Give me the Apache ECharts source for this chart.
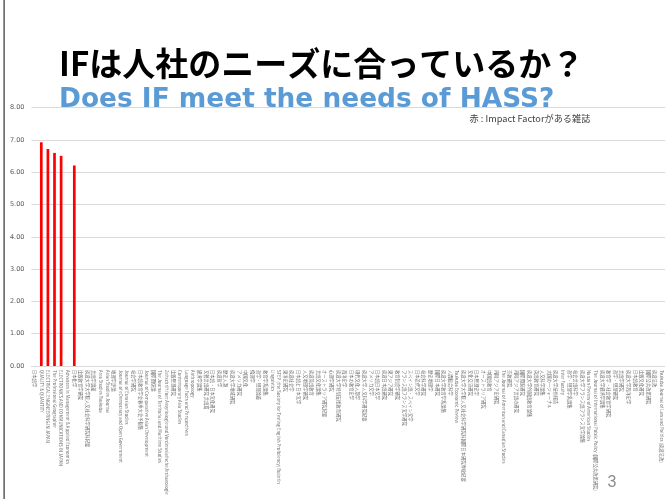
<!DOCTYPE html>
<html><head><meta charset="utf-8">
<script src="https://cdn.jsdelivr.net/npm/echarts@6/dist/echarts.min.js"></script>
<style>html,body{margin:0;padding:0;background:#fff}#c{width:665px;height:499px}</style>
</head><body><div id="c"></div>
<script>
const categories = [
'日本語学','QUALITY & QUANTITY','ELECTRICAL ENGINEERING IN JAPAN','The Professional Geographer','ELECTRONICS AND COMMUNICATIONS IN JAPAN',
'Advances in Management & Applied Economics','日本化学','比較教育学研究','筑波大学大学院人文社会科学研究科紀要','言語学論叢',
'Area Studies Tsukuba','Asian Studies Journal','地理学評論','Journal of eDemocracy and Open Government','Journal of Eurasian Studies',
'社会学研究','日本語教育学会春季大会予稿集','Journal of Comparative Asian Development','国際関係論','The Journal of Territorial and Maritime Studies',
'Zeitschrift fuer Assyriologie und Vorderasiatische Archaeologie','比較思想研究','Contemporary Asia Studies','Language Facts and Perspectives','Anthropology',
'経済学論集','文藝言語研究 言語篇','日本語・日本文化研究','筑波哲学','歴史人類',
'筑波大学地域研究','アメリカ研究','中国文化','倫理学','哲学・思想論叢',
'教育学系論集','Linguistics','STEP (the Society for Testing English Proficiency) Bulletin','東洋史研究','筑波社会学',
'日本語と日本文学','人文地理学研究','筑波英語教育','言語文化論集','オーストラリア研究紀要',
'心理学研究','筑波大学特別支援教育研究','西洋史学','日本の教育史学','現代文化人類学',
'筑波大学人文科学研究紀要','アメリカ文学','日本語日本文学','筑波日本語研究','東アジア研究',
'教育制度学研究','フランス語フランス文学研究','スペイン語・スペイン文学','日本近代文学','社会科学研究',
'歴史地理学','国際日本研究','筑波大学教育学系論集','人間総合科学','Tsukuba Economic Review',
'筑波大学大学院人文社会科学研究科国際日本研究専攻紀要','文化交流研究','日本思想史学','オーストラリア研究','中国語教育',
'内陸アジア史研究','The Journal of American and Canadian Studies','宗教研究','内陸アジア言語の研究','国際開発研究',
'筑波大学外国語教育論集','英語教育研究','人文科学論集','大国の一ジャーナル','筑波大学技術報告',
'Inter Faculty','哲学・思想学系論集','社会言語科学','筑波大学フランス語フランス文学論集','Nanzan Review of American Studies',
'The Journal of International Public Policy (国際公共政策研究)','筑波大学経済学論集','教育学・社会教育学研究','哲学・思想研究','言語学研究',
'筑波大学西洋史学','日本語教育','比較文化研究','国際公共政策研究','筑波法政',
'Tsukuba Journal of Law and Politics (筑波法政)'
];
const ifValues = [
0,6.93,6.72,6.60,6.51,0,6.21,0,0,0,
0,0,0,0,0,0,0,0,0,0,
0,0,0,0,0,0,0,0,0,0,
0,0,0,0,0,0,0,0,0,0,
0,0,0,0,0,0,0,0,0,0,
0,0,0,0,0,0,0,0,0,0,
0,0,0,0,0,0,0,0,0,0,
0,0,0,0,0,0,0,0,0,0,
0,0,0,0,0,0,0,0,0,0,
0,0,0,0,0,0
];
const titleJa = 'IFは人社のニーズに合っているか？';
const titleEn = 'Does IF meet the needs of HASS?';
const noteText = '赤 : Impact Factorがある雑誌';
const pageNo = '3';

const chart = echarts.init(document.getElementById('c'), null, {renderer: 'canvas'});
chart.setOption({
  animation: false,
  grid: {left: 31.4, right: 0, top: 107.7, bottom: 133, containLabel: false},
  xAxis: {
    type: 'category', data: categories,
    axisLine: {lineStyle: {color: '#D9D9D9', width: 1}},
    axisTick: {show: false},
    axisLabel: {interval: 0, rotate: -90, fontSize: 4.3, color: '#6F6F6F', margin: 4,
      fontFamily: '"Noto Sans CJK JP", sans-serif'}
  },
  yAxis: {
    type: 'value', min: 0, max: 8, interval: 1,
    axisLine: {show: false}, axisTick: {show: false},
    axisLabel: {fontSize: 6.5, color: '#595959', margin: 7, fontFamily: '"DejaVu Sans", sans-serif',
      formatter: v => v.toFixed(2)},
    splitLine: {lineStyle: {color: '#D9D9D9', width: 1}}
  },
  series: [{type: 'bar', data: ifValues, barWidth: 2.7, itemStyle: {color: '#FF0000'}}],
  graphic: [
    {type: 'rect', z: 100, shape: {x: 3.5, y: 0, width: 1.2, height: 499}, style: {fill: '#333333'}},
    {type: 'text', z: 100, x: 59, y: 63, style: {text: titleJa, fill: '#000000',
      font: 'bold 33px "Noto Sans CJK JP"', textVerticalAlign: 'middle', verticalAlign: 'middle'}},
    {type: 'text', z: 100, x: 59, y: 100, style: {text: titleEn, fill: '#5B9BD5',
      font: 'bold 26.4px "DejaVu Sans"', textVerticalAlign: 'middle', verticalAlign: 'middle'}},
    {type: 'text', z: 100, x: 530, y: 118.5, style: {text: noteText, fill: '#404040',
      font: '9.2px "Noto Sans CJK JP"', textAlign: 'center', align: 'center', textVerticalAlign: 'middle', verticalAlign: 'middle'}},
    {type: 'text', z: 100, x: 612, y: 483, style: {text: pageNo, fill: '#8C8C8C',
      font: '16px "Liberation Sans"', textAlign: 'center', align: 'center', textVerticalAlign: 'middle', verticalAlign: 'middle'}}
  ]
});
</script></body></html>
